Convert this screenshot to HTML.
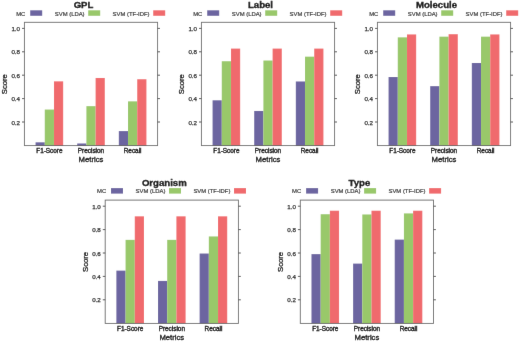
<!DOCTYPE html>
<html><head><meta charset="utf-8"><style>
html,body{margin:0;padding:0;background:#fff;}
body{width:520px;height:342px;overflow:hidden;}
#w{width:520px;height:342px;}
svg{display:block;font-family:"Liberation Sans",sans-serif;}
.ti{font-size:9.6px;font-weight:bold;text-anchor:middle;fill:#000;stroke:#000;stroke-width:0.3px;}
.lg{font-size:5.9px;fill:#333;stroke:#333;stroke-width:0.2px;}
.xt{font-size:6.4px;text-anchor:middle;fill:#000;stroke:#000;stroke-width:0.35px;}
.yt{font-size:6.2px;text-anchor:end;fill:#1a1a1a;stroke:#1a1a1a;stroke-width:0.25px;}
.at{font-size:7.7px;text-anchor:middle;fill:#000;stroke:#000;stroke-width:0.3px;}
</style></head><body><div id="w">
<svg width="520" height="342" viewBox="0 0 520 342">
<defs><filter id="bl" x="0" y="0" width="520" height="342" filterUnits="userSpaceOnUse"><feConvolveMatrix order="3" kernelMatrix="0.0028 0.0470 0.0028 0.0470 0.8008 0.0470 0.0028 0.0470 0.0028" edgeMode="duplicate"/></filter></defs>
<rect width="520" height="342" fill="#fff"/>
<g filter="url(#bl)">
<rect width="520" height="342" fill="#fff"/>
<g transform="translate(0,0)">
<text transform="translate(83.50,8.35)" class="ti">GPL</text>
<text transform="translate(16.20,15.75)" class="lg">MC</text>
<rect x="30.2" y="10.3" width="12" height="5.5" fill="#6c65a0"/>
<text transform="translate(54.80,15.75)" class="lg">SVM (LDA)</text>
<rect x="88.2" y="10.3" width="12" height="5.5" fill="#99c86b"/>
<text transform="translate(112.60,15.75)" class="lg">SVM (TF-IDF)</text>
<rect x="153.2" y="10.3" width="12" height="5.5" fill="#f06b6d"/>
<rect x="35.57" y="142.31" width="9.20" height="3.09" fill="#6c65a0"/>
<rect x="44.77" y="109.55" width="9.20" height="35.85" fill="#99c86b"/>
<rect x="53.97" y="81.35" width="9.20" height="64.05" fill="#f06b6d"/>
<text transform="translate(49.37,152.70)" class="xt">F1-Score</text>
<rect x="77.20" y="143.48" width="9.20" height="1.92" fill="#6c65a0"/>
<rect x="86.40" y="106.15" width="9.20" height="39.25" fill="#99c86b"/>
<rect x="95.60" y="77.96" width="9.20" height="67.44" fill="#f06b6d"/>
<text transform="translate(91.00,152.70)" class="xt">Precision</text>
<rect x="118.82" y="131.08" width="9.20" height="14.32" fill="#6c65a0"/>
<rect x="128.02" y="101.36" width="9.20" height="44.04" fill="#99c86b"/>
<rect x="137.22" y="79.24" width="9.20" height="66.16" fill="#f06b6d"/>
<text transform="translate(132.62,152.70)" class="xt">Recall</text>
<rect x="24.4" y="22.3" width="133.20" height="123.30" fill="none" stroke="#000" stroke-opacity="0.6" stroke-width="0.9"/>
<line x1="22.0" x2="24.4" y1="122.00" y2="122.00" stroke="#444444" stroke-width="0.9"/>
<line x1="157.6" x2="160.0" y1="122.00" y2="122.00" stroke="#444444" stroke-width="0.9"/>
<text transform="translate(20.00,124.50)" class="yt">0.2</text>
<line x1="22.0" x2="24.4" y1="98.60" y2="98.60" stroke="#444444" stroke-width="0.9"/>
<line x1="157.6" x2="160.0" y1="98.60" y2="98.60" stroke="#444444" stroke-width="0.9"/>
<text transform="translate(20.00,101.10)" class="yt">0.4</text>
<line x1="22.0" x2="24.4" y1="75.20" y2="75.20" stroke="#444444" stroke-width="0.9"/>
<line x1="157.6" x2="160.0" y1="75.20" y2="75.20" stroke="#444444" stroke-width="0.9"/>
<text transform="translate(20.00,77.70)" class="yt">0.6</text>
<line x1="22.0" x2="24.4" y1="51.80" y2="51.80" stroke="#444444" stroke-width="0.9"/>
<line x1="157.6" x2="160.0" y1="51.80" y2="51.80" stroke="#444444" stroke-width="0.9"/>
<text transform="translate(20.00,54.30)" class="yt">0.8</text>
<line x1="22.0" x2="24.4" y1="28.40" y2="28.40" stroke="#444444" stroke-width="0.9"/>
<line x1="157.6" x2="160.0" y1="28.40" y2="28.40" stroke="#444444" stroke-width="0.9"/>
<text transform="translate(20.00,30.90)" class="yt">1.0</text>
<text transform="translate(91.00,162.00)" class="at">Metrics</text>
<text transform="translate(7.40,84.15) rotate(-90)" class="at">Score</text>
</g>
<g transform="translate(177,0)">
<text transform="translate(83.50,8.35)" class="ti">Label</text>
<text transform="translate(16.20,15.75)" class="lg">MC</text>
<rect x="30.2" y="10.3" width="12" height="5.5" fill="#6c65a0"/>
<text transform="translate(54.80,15.75)" class="lg">SVM (LDA)</text>
<rect x="88.2" y="10.3" width="12" height="5.5" fill="#99c86b"/>
<text transform="translate(112.60,15.75)" class="lg">SVM (TF-IDF)</text>
<rect x="153.2" y="10.3" width="12" height="5.5" fill="#f06b6d"/>
<rect x="35.57" y="100.30" width="9.20" height="45.10" fill="#6c65a0"/>
<rect x="44.77" y="61.23" width="9.20" height="84.17" fill="#99c86b"/>
<rect x="53.97" y="48.59" width="9.20" height="96.81" fill="#f06b6d"/>
<text transform="translate(49.37,152.70)" class="xt">F1-Score</text>
<rect x="77.20" y="110.95" width="9.20" height="34.45" fill="#6c65a0"/>
<rect x="86.40" y="60.52" width="9.20" height="84.88" fill="#99c86b"/>
<rect x="95.60" y="48.59" width="9.20" height="96.81" fill="#f06b6d"/>
<text transform="translate(91.00,152.70)" class="xt">Precision</text>
<rect x="118.82" y="81.47" width="9.20" height="63.93" fill="#6c65a0"/>
<rect x="128.02" y="56.66" width="9.20" height="88.74" fill="#99c86b"/>
<rect x="137.22" y="48.59" width="9.20" height="96.81" fill="#f06b6d"/>
<text transform="translate(132.62,152.70)" class="xt">Recall</text>
<rect x="24.4" y="22.3" width="133.20" height="123.30" fill="none" stroke="#000" stroke-opacity="0.6" stroke-width="0.9"/>
<line x1="22.0" x2="24.4" y1="122.00" y2="122.00" stroke="#444444" stroke-width="0.9"/>
<line x1="157.6" x2="160.0" y1="122.00" y2="122.00" stroke="#444444" stroke-width="0.9"/>
<text transform="translate(20.00,124.50)" class="yt">0.2</text>
<line x1="22.0" x2="24.4" y1="98.60" y2="98.60" stroke="#444444" stroke-width="0.9"/>
<line x1="157.6" x2="160.0" y1="98.60" y2="98.60" stroke="#444444" stroke-width="0.9"/>
<text transform="translate(20.00,101.10)" class="yt">0.4</text>
<line x1="22.0" x2="24.4" y1="75.20" y2="75.20" stroke="#444444" stroke-width="0.9"/>
<line x1="157.6" x2="160.0" y1="75.20" y2="75.20" stroke="#444444" stroke-width="0.9"/>
<text transform="translate(20.00,77.70)" class="yt">0.6</text>
<line x1="22.0" x2="24.4" y1="51.80" y2="51.80" stroke="#444444" stroke-width="0.9"/>
<line x1="157.6" x2="160.0" y1="51.80" y2="51.80" stroke="#444444" stroke-width="0.9"/>
<text transform="translate(20.00,54.30)" class="yt">0.8</text>
<line x1="22.0" x2="24.4" y1="28.40" y2="28.40" stroke="#444444" stroke-width="0.9"/>
<line x1="157.6" x2="160.0" y1="28.40" y2="28.40" stroke="#444444" stroke-width="0.9"/>
<text transform="translate(20.00,30.90)" class="yt">1.0</text>
<text transform="translate(91.00,162.00)" class="at">Metrics</text>
<text transform="translate(7.40,84.15) rotate(-90)" class="at">Score</text>
</g>
<g transform="translate(353,0)">
<text transform="translate(83.50,8.35)" class="ti">Molecule</text>
<text transform="translate(16.20,15.75)" class="lg">MC</text>
<rect x="30.2" y="10.3" width="12" height="5.5" fill="#6c65a0"/>
<text transform="translate(54.80,15.75)" class="lg">SVM (LDA)</text>
<rect x="88.2" y="10.3" width="12" height="5.5" fill="#99c86b"/>
<text transform="translate(112.60,15.75)" class="lg">SVM (TF-IDF)</text>
<rect x="153.2" y="10.3" width="12" height="5.5" fill="#f06b6d"/>
<rect x="35.57" y="77.02" width="9.20" height="68.38" fill="#6c65a0"/>
<rect x="44.77" y="37.36" width="9.20" height="108.04" fill="#99c86b"/>
<rect x="53.97" y="34.43" width="9.20" height="110.97" fill="#f06b6d"/>
<text transform="translate(49.37,152.70)" class="xt">F1-Score</text>
<rect x="77.20" y="86.15" width="9.20" height="59.25" fill="#6c65a0"/>
<rect x="86.40" y="36.66" width="9.20" height="108.74" fill="#99c86b"/>
<rect x="95.60" y="34.20" width="9.20" height="111.20" fill="#f06b6d"/>
<text transform="translate(91.00,152.70)" class="xt">Precision</text>
<rect x="118.82" y="62.98" width="9.20" height="82.42" fill="#6c65a0"/>
<rect x="128.02" y="36.66" width="9.20" height="108.74" fill="#99c86b"/>
<rect x="137.22" y="34.43" width="9.20" height="110.97" fill="#f06b6d"/>
<text transform="translate(132.62,152.70)" class="xt">Recall</text>
<rect x="24.4" y="22.3" width="133.20" height="123.30" fill="none" stroke="#000" stroke-opacity="0.6" stroke-width="0.9"/>
<line x1="22.0" x2="24.4" y1="122.00" y2="122.00" stroke="#444444" stroke-width="0.9"/>
<line x1="157.6" x2="160.0" y1="122.00" y2="122.00" stroke="#444444" stroke-width="0.9"/>
<text transform="translate(20.00,124.50)" class="yt">0.2</text>
<line x1="22.0" x2="24.4" y1="98.60" y2="98.60" stroke="#444444" stroke-width="0.9"/>
<line x1="157.6" x2="160.0" y1="98.60" y2="98.60" stroke="#444444" stroke-width="0.9"/>
<text transform="translate(20.00,101.10)" class="yt">0.4</text>
<line x1="22.0" x2="24.4" y1="75.20" y2="75.20" stroke="#444444" stroke-width="0.9"/>
<line x1="157.6" x2="160.0" y1="75.20" y2="75.20" stroke="#444444" stroke-width="0.9"/>
<text transform="translate(20.00,77.70)" class="yt">0.6</text>
<line x1="22.0" x2="24.4" y1="51.80" y2="51.80" stroke="#444444" stroke-width="0.9"/>
<line x1="157.6" x2="160.0" y1="51.80" y2="51.80" stroke="#444444" stroke-width="0.9"/>
<text transform="translate(20.00,54.30)" class="yt">0.8</text>
<line x1="22.0" x2="24.4" y1="28.40" y2="28.40" stroke="#444444" stroke-width="0.9"/>
<line x1="157.6" x2="160.0" y1="28.40" y2="28.40" stroke="#444444" stroke-width="0.9"/>
<text transform="translate(20.00,30.90)" class="yt">1.0</text>
<text transform="translate(91.00,162.00)" class="at">Metrics</text>
<text transform="translate(7.40,84.15) rotate(-90)" class="at">Score</text>
</g>
<g transform="translate(80.8,177.8)">
<text transform="translate(83.50,7.85)" class="ti">Organism</text>
<text transform="translate(16.20,15.25)" class="lg">MC</text>
<rect x="30.2" y="10.3" width="12" height="5.5" fill="#6c65a0"/>
<text transform="translate(54.80,15.25)" class="lg">SVM (LDA)</text>
<rect x="88.2" y="10.3" width="12" height="5.5" fill="#99c86b"/>
<text transform="translate(112.60,15.25)" class="lg">SVM (TF-IDF)</text>
<rect x="153.2" y="10.3" width="12" height="5.5" fill="#f06b6d"/>
<rect x="35.57" y="92.82" width="9.20" height="52.58" fill="#6c65a0"/>
<rect x="44.77" y="62.05" width="9.20" height="83.36" fill="#99c86b"/>
<rect x="53.97" y="38.53" width="9.20" height="106.87" fill="#f06b6d"/>
<text transform="translate(49.37,152.70)" class="xt">F1-Score</text>
<rect x="77.20" y="103.11" width="9.20" height="42.29" fill="#6c65a0"/>
<rect x="86.40" y="62.05" width="9.20" height="83.36" fill="#99c86b"/>
<rect x="95.60" y="38.53" width="9.20" height="106.87" fill="#f06b6d"/>
<text transform="translate(91.00,152.70)" class="xt">Precision</text>
<rect x="118.82" y="75.73" width="9.20" height="69.67" fill="#6c65a0"/>
<rect x="128.02" y="58.65" width="9.20" height="86.75" fill="#99c86b"/>
<rect x="137.22" y="38.53" width="9.20" height="106.87" fill="#f06b6d"/>
<text transform="translate(132.62,152.70)" class="xt">Recall</text>
<rect x="24.4" y="22.3" width="133.20" height="123.30" fill="none" stroke="#000" stroke-opacity="0.6" stroke-width="0.9"/>
<line x1="22.0" x2="24.4" y1="122.00" y2="122.00" stroke="#444444" stroke-width="0.9"/>
<line x1="157.6" x2="160.0" y1="122.00" y2="122.00" stroke="#444444" stroke-width="0.9"/>
<text transform="translate(20.00,124.50)" class="yt">0.2</text>
<line x1="22.0" x2="24.4" y1="98.60" y2="98.60" stroke="#444444" stroke-width="0.9"/>
<line x1="157.6" x2="160.0" y1="98.60" y2="98.60" stroke="#444444" stroke-width="0.9"/>
<text transform="translate(20.00,101.10)" class="yt">0.4</text>
<line x1="22.0" x2="24.4" y1="75.20" y2="75.20" stroke="#444444" stroke-width="0.9"/>
<line x1="157.6" x2="160.0" y1="75.20" y2="75.20" stroke="#444444" stroke-width="0.9"/>
<text transform="translate(20.00,77.70)" class="yt">0.6</text>
<line x1="22.0" x2="24.4" y1="51.80" y2="51.80" stroke="#444444" stroke-width="0.9"/>
<line x1="157.6" x2="160.0" y1="51.80" y2="51.80" stroke="#444444" stroke-width="0.9"/>
<text transform="translate(20.00,54.30)" class="yt">0.8</text>
<line x1="22.0" x2="24.4" y1="28.40" y2="28.40" stroke="#444444" stroke-width="0.9"/>
<line x1="157.6" x2="160.0" y1="28.40" y2="28.40" stroke="#444444" stroke-width="0.9"/>
<text transform="translate(20.00,30.90)" class="yt">1.0</text>
<text transform="translate(91.00,162.00)" class="at">Metrics</text>
<text transform="translate(7.40,84.15) rotate(-90)" class="at">Score</text>
</g>
<g transform="translate(275.9,177.8)">
<text transform="translate(83.50,7.85)" class="ti">Type</text>
<text transform="translate(16.20,15.25)" class="lg">MC</text>
<rect x="30.2" y="10.3" width="12" height="5.5" fill="#6c65a0"/>
<text transform="translate(54.80,15.25)" class="lg">SVM (LDA)</text>
<rect x="88.2" y="10.3" width="12" height="5.5" fill="#99c86b"/>
<text transform="translate(112.60,15.25)" class="lg">SVM (TF-IDF)</text>
<rect x="153.2" y="10.3" width="12" height="5.5" fill="#f06b6d"/>
<rect x="35.57" y="76.32" width="9.20" height="69.08" fill="#6c65a0"/>
<rect x="44.77" y="36.42" width="9.20" height="108.98" fill="#99c86b"/>
<rect x="53.97" y="32.91" width="9.20" height="112.49" fill="#f06b6d"/>
<text transform="translate(49.37,152.70)" class="xt">F1-Score</text>
<rect x="77.20" y="85.80" width="9.20" height="59.60" fill="#6c65a0"/>
<rect x="86.40" y="36.66" width="9.20" height="108.74" fill="#99c86b"/>
<rect x="95.60" y="32.91" width="9.20" height="112.49" fill="#f06b6d"/>
<text transform="translate(91.00,152.70)" class="xt">Precision</text>
<rect x="118.82" y="61.81" width="9.20" height="83.59" fill="#6c65a0"/>
<rect x="128.02" y="35.60" width="9.20" height="109.80" fill="#99c86b"/>
<rect x="137.22" y="32.91" width="9.20" height="112.49" fill="#f06b6d"/>
<text transform="translate(132.62,152.70)" class="xt">Recall</text>
<rect x="24.4" y="22.3" width="133.20" height="123.30" fill="none" stroke="#000" stroke-opacity="0.6" stroke-width="0.9"/>
<line x1="22.0" x2="24.4" y1="122.00" y2="122.00" stroke="#444444" stroke-width="0.9"/>
<line x1="157.6" x2="160.0" y1="122.00" y2="122.00" stroke="#444444" stroke-width="0.9"/>
<text transform="translate(20.00,124.50)" class="yt">0.2</text>
<line x1="22.0" x2="24.4" y1="98.60" y2="98.60" stroke="#444444" stroke-width="0.9"/>
<line x1="157.6" x2="160.0" y1="98.60" y2="98.60" stroke="#444444" stroke-width="0.9"/>
<text transform="translate(20.00,101.10)" class="yt">0.4</text>
<line x1="22.0" x2="24.4" y1="75.20" y2="75.20" stroke="#444444" stroke-width="0.9"/>
<line x1="157.6" x2="160.0" y1="75.20" y2="75.20" stroke="#444444" stroke-width="0.9"/>
<text transform="translate(20.00,77.70)" class="yt">0.6</text>
<line x1="22.0" x2="24.4" y1="51.80" y2="51.80" stroke="#444444" stroke-width="0.9"/>
<line x1="157.6" x2="160.0" y1="51.80" y2="51.80" stroke="#444444" stroke-width="0.9"/>
<text transform="translate(20.00,54.30)" class="yt">0.8</text>
<line x1="22.0" x2="24.4" y1="28.40" y2="28.40" stroke="#444444" stroke-width="0.9"/>
<line x1="157.6" x2="160.0" y1="28.40" y2="28.40" stroke="#444444" stroke-width="0.9"/>
<text transform="translate(20.00,30.90)" class="yt">1.0</text>
<text transform="translate(91.00,162.00)" class="at">Metrics</text>
<text transform="translate(7.40,84.15) rotate(-90)" class="at">Score</text>
</g>
</g>
</svg></div>
</body></html>
